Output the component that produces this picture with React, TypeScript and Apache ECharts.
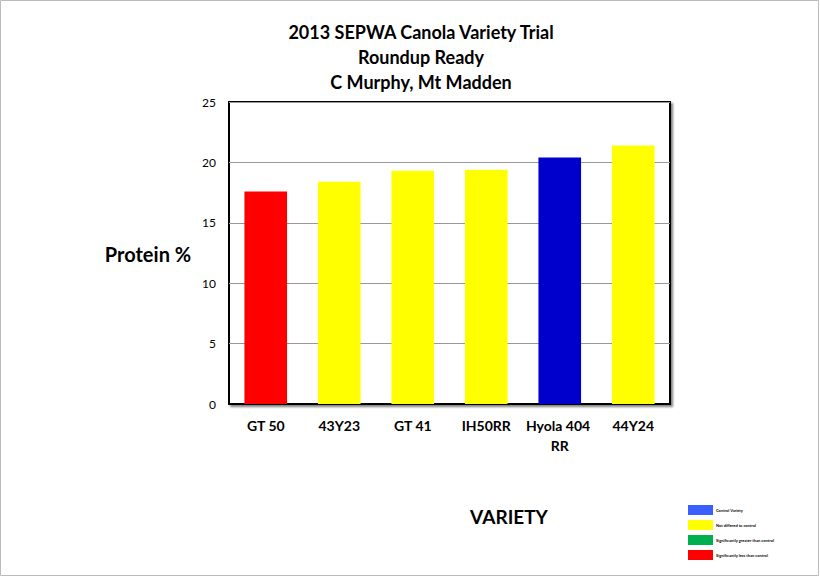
import React, { useEffect, useRef } from "react";
import * as echarts from "echarts";

const titleLines = ["2013 SEPWA Canola Variety Trial", "Roundup Ready", "C Murphy, Mt Madden"];
const categories = ["GT 50", "43Y23", "GT 41", "IH50RR", "Hyola 404 RR", "44Y24"];
const proteinValues = [17.6, 18.4, 19.3, 19.4, 20.4, 21.4];
const barColors = ["#FF0000", "#FFFF00", "#FFFF00", "#FFFF00", "#0000CC", "#FFFF00"];
const legendLabels = [
  "Control Variety",
  "Not differed to control",
  "Significantly greater than control",
  "Significantly less than control",
];
const legendColors = ["#3A5FFF", "#FFFF00", "#00B050", "#FF0000"];
const yAxisName = "Protein %";
const xAxisName = "VARIETY";

const FONT = "Lato, 'Open Sans', sans-serif";

export default function App() {
  const ref = useRef<HTMLDivElement>(null);
  useEffect(() => {
    if (!ref.current) return;
    const chart = echarts.init(ref.current, undefined, { renderer: "svg" });
    const legendGraphics: any[] = [];
    legendLabels.forEach((lab, i) => {
      legendGraphics.push({
        type: "rect",
        shape: { x: 688, y: 505 + i * 15, width: 25, height: 10 },
        style: { fill: legendColors[i] },
      });
      legendGraphics.push({
        type: "text",
        x: 716,
        y: 510 + i * 15,
        style: { text: lab, fontSize: 4, fontFamily: FONT, fill: "#000", verticalAlign: "middle", fontWeight: "bold" },
      });
    });
    chart.setOption({
      animation: false,
      backgroundColor: "#fff",
      title: {
        text: titleLines.join("\n"),
        left: 416,
        textAlign: "center",
        top: 14,
        textStyle: { fontFamily: FONT, fontWeight: "bold", fontSize: 18, lineHeight: 25, color: "#000" },
      },
      grid: {
        left: 229,
        right: 150,
        top: 102,
        bottom: 173,
        show: true,
        borderColor: "#000",
        borderWidth: 2,
        backgroundColor: "#fff",
        shadowColor: "rgba(0,0,0,0.5)",
        shadowOffsetX: 2,
        shadowOffsetY: 2,
        shadowBlur: 2,
      },
      xAxis: {
        type: "category",
        data: categories,
        axisLine: { show: true, lineStyle: { color: "#000", width: 2 } },
        axisTick: { show: false },
        axisLabel: {
          fontFamily: FONT,
          fontWeight: "bold",
          fontSize: 14,
          color: "#000",
          margin: 11,
          width: 72,
          overflow: "break",
          lineHeight: 20,
          interval: 0,
        },
      },
      yAxis: {
        type: "value",
        min: 0,
        max: 25,
        interval: 5,
        axisLine: { show: false },
        axisTick: { show: false },
        axisLabel: { fontFamily: FONT, fontSize: 12, color: "#000", margin: 13 },
        splitLine: { show: true, lineStyle: { color: "#999", width: 1 } },
      },
      series: [
        {
          type: "bar",
          data: proteinValues.map((v, i) => ({ value: v, itemStyle: { color: barColors[i] } })),
          barWidth: "58%",
        },
      ],
      graphic: [
        {
          type: "rect",
          shape: { x: 0.5, y: 0.5, width: 818, height: 575 },
          style: { fill: "none", stroke: "#bbb", lineWidth: 1 },
          z: 100,
        },
        {
          type: "text",
          x: 148,
          y: 254,
          style: { text: yAxisName, fontFamily: FONT, fontWeight: "bold", fontSize: 20, fill: "#000", align: "center", verticalAlign: "middle" },
        },
        {
          type: "text",
          x: 509,
          y: 516,
          style: { text: xAxisName, fontFamily: FONT, fontWeight: "bold", fontSize: 19, fill: "#000", align: "center", verticalAlign: "middle" },
        },
        ...legendGraphics,
      ],
    });
    return () => chart.dispose();
  }, []);
  return <div ref={ref} style={{ width: 820, height: 577, position: "absolute", left: 0, top: 0 }} />;
}
